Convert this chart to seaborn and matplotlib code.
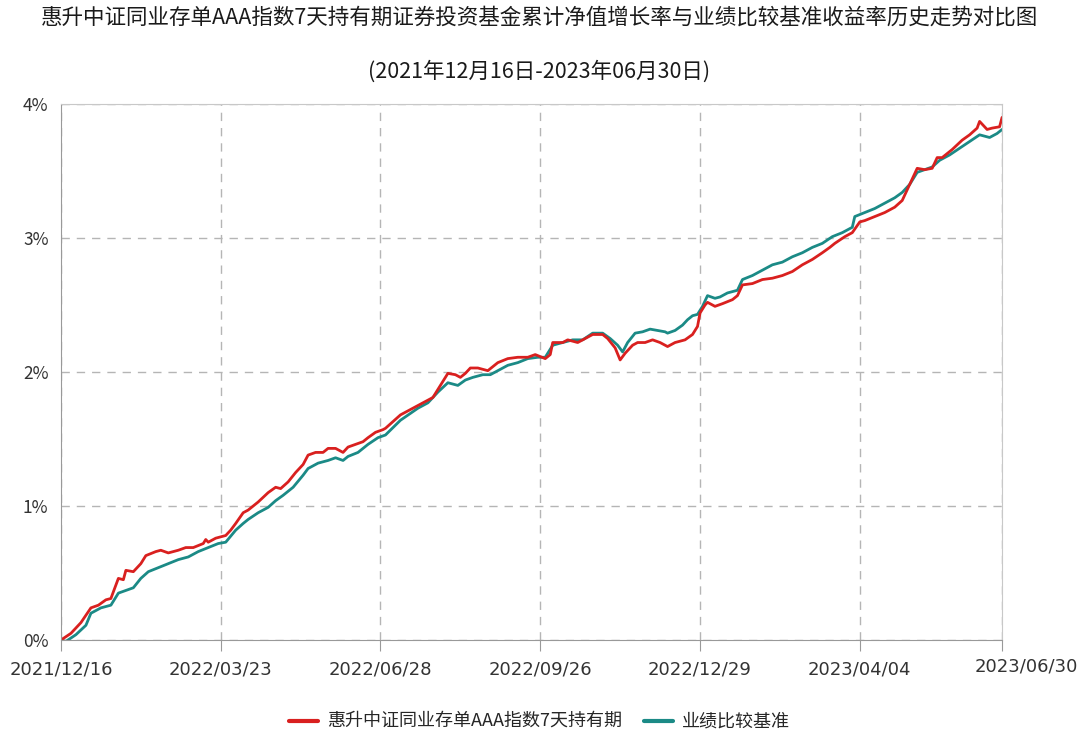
import numpy as np
import pandas as pd
import matplotlib
matplotlib.use("Agg")
import matplotlib.pyplot as plt
import matplotlib.transforms as mtransforms
import seaborn as sns

# trading-day index from 2021/12/16, cumulative return in %
fund_idx = [0, 4, 8, 12, 15, 18, 20, 23, 25, 26, 29, 32, 34, 38, 40, 43, 47, 50, 53, 57,
            58, 59, 62, 66, 68, 70, 73, 75, 79, 83, 86, 88, 91, 94, 97, 99, 102, 105, 107, 110,
            113, 115, 118, 121, 123, 126, 129, 130, 136, 141, 145, 149, 153, 155, 158, 160, 162, 164, 167, 171,
            175, 179, 183, 187, 190, 194, 196, 197, 201, 203, 207, 210, 213, 217, 219, 222, 224, 226, 229, 231,
            234, 237, 240, 243, 246, 250, 253, 255, 256, 258, 259, 262, 265, 269, 271, 273, 277, 281, 285, 289,
            293, 297, 301, 305, 308, 310, 314, 317, 320, 322, 326, 330, 334, 337, 340, 343, 346, 349, 351, 353,
            357, 361, 364, 367, 368, 371, 373, 376, 377]
fund_val = [0.00, 0.05, 0.13, 0.24, 0.26, 0.30, 0.31, 0.46, 0.45, 0.52, 0.51, 0.57, 0.63, 0.66, 0.67, 0.65, 0.67, 0.69, 0.69, 0.72,
            0.75, 0.73, 0.76, 0.78, 0.82, 0.87, 0.95, 0.97, 1.03, 1.10, 1.14, 1.13, 1.18, 1.25, 1.31, 1.38, 1.40, 1.40, 1.43, 1.43,
            1.40, 1.44, 1.46, 1.48, 1.51, 1.55, 1.57, 1.58, 1.68, 1.73, 1.77, 1.81, 1.93, 1.99, 1.98, 1.96, 1.99, 2.03, 2.03, 2.01,
            2.07, 2.10, 2.11, 2.11, 2.13, 2.10, 2.13, 2.22, 2.22, 2.24, 2.22, 2.25, 2.28, 2.28, 2.25, 2.18, 2.09, 2.14, 2.20, 2.22,
            2.22, 2.24, 2.22, 2.19, 2.22, 2.24, 2.28, 2.34, 2.44, 2.50, 2.52, 2.49, 2.51, 2.54, 2.57, 2.65, 2.66, 2.69, 2.70, 2.72,
            2.75, 2.80, 2.84, 2.89, 2.93, 2.96, 3.01, 3.04, 3.12, 3.13, 3.16, 3.19, 3.23, 3.28, 3.40, 3.52, 3.51, 3.52, 3.60, 3.60,
            3.66, 3.73, 3.77, 3.82, 3.87, 3.81, 3.82, 3.83, 3.90]

bench_idx = [0, 2, 6, 10, 12, 16, 20, 23, 26, 29, 32, 35, 39, 43, 47, 51, 55, 59, 63, 66,
             70, 73, 75, 79, 83, 86, 89, 93, 97, 99, 103, 107, 110, 113, 115, 119, 123, 127, 130, 136,
             143, 147, 151, 155, 159, 162, 165, 169, 172, 175, 179, 183, 187, 191, 194, 197, 201, 205, 209, 213,
             217, 220, 223, 225, 227, 230, 233, 236, 239, 242, 243, 246, 249, 251, 253, 255, 257, 259, 262, 264,
             267, 271, 273, 277, 281, 285, 289, 293, 297, 301, 305, 309, 313, 317, 318, 322, 326, 330, 334, 337,
             340, 343, 346, 349, 352, 356, 360, 364, 368, 372, 375, 377]
bench_val = [0.00, -0.01, 0.04, 0.11, 0.20, 0.24, 0.26, 0.35, 0.37, 0.39, 0.46, 0.51, 0.54, 0.57, 0.60, 0.62, 0.66, 0.69, 0.72, 0.73,
             0.82, 0.87, 0.90, 0.95, 0.99, 1.04, 1.08, 1.14, 1.23, 1.28, 1.32, 1.34, 1.36, 1.34, 1.37, 1.40, 1.46, 1.51, 1.53, 1.64,
             1.73, 1.77, 1.85, 1.92, 1.90, 1.94, 1.96, 1.98, 1.98, 2.01, 2.05, 2.07, 2.10, 2.11, 2.11, 2.20, 2.22, 2.24, 2.24, 2.29,
             2.29, 2.25, 2.20, 2.15, 2.22, 2.29, 2.30, 2.32, 2.31, 2.30, 2.29, 2.31, 2.35, 2.39, 2.42, 2.43, 2.49, 2.57, 2.55, 2.56,
             2.59, 2.61, 2.69, 2.72, 2.76, 2.80, 2.82, 2.86, 2.89, 2.93, 2.96, 3.01, 3.04, 3.08, 3.16, 3.19, 3.22, 3.26, 3.30, 3.34,
             3.40, 3.49, 3.51, 3.53, 3.58, 3.62, 3.67, 3.72, 3.77, 3.75, 3.78, 3.81]

tick_pos = [0, 64, 128, 192, 256, 320, 377]
tick_labels = ["2021/12/16", "2022/03/23", "2022/06/28", "2022/09/26",
               "2022/12/29", "2023/04/04", "2023/06/30"]

fund_name = "惠升中证同业存单AAA指数7天持有期"
bench_name = "业绩比较基准"

df = pd.concat([
    pd.DataFrame({"idx": fund_idx, "val": fund_val, "series": fund_name}),
    pd.DataFrame({"idx": bench_idx, "val": bench_val, "series": bench_name}),
])

sns.set_style("white")
plt.rcParams["font.family"] = ["Noto Sans CJK SC", "DejaVu Sans"]

fig = plt.figure(figsize=(10.79, 7.36), dpi=100)
ax = fig.add_axes([0.0565, 0.1304, 0.8722, 0.7283])

palette = {fund_name: "#d9201f", bench_name: "#1b8a86"}
sns.lineplot(data=df, x="idx", y="val", hue="series", palette=palette,
             linewidth=2.0, ax=ax, legend=False, hue_order=[bench_name, fund_name])

ax.set_xlim(0, 377)
ax.set_ylim(0, 4)
ax.set_yticks([0, 1, 2, 3, 4])
ax.set_yticklabels(["0%", "1%", "2%", "3%", "4%"], color="#333333", fontsize=12.5)
ax.set_xticks(tick_pos)
ax.set_xticklabels(tick_labels, color="#333333", fontsize=13, family="DejaVu Sans")
ax.set_xlabel("")
ax.set_ylabel("")

ax.grid(True, linestyle=(0, (6, 5)), color="#b5b5b5", linewidth=1.0)
for s in ax.spines.values():
    s.set_color("#c8c8c8")
ax.spines["left"].set_color("#999999")
ax.spines["bottom"].set_color("#999999")
ax.tick_params(axis="x", length=8, color="#999999", pad=7, bottom=True)
ax.tick_params(axis="y", length=0, pad=9)

# last date label shifted right as in the original
last = ax.get_xticklabels()[-1]
last.set_transform(last.get_transform() + mtransforms.ScaledTranslation(0.24, 0.03, fig.dpi_scale_trans))

fig.text(0.5, 1 - 18 / 736, "惠升中证同业存单AAA指数7天持有期证券投资基金累计净值增长率与业绩比较基准收益率历史走势对比图",
         ha="center", va="center", fontsize=15.5, color="#1a1a1a", fontweight="medium")
fig.text(0.5, 1 - 72 / 736, "(2021年12月16日-2023年06月30日)",
         ha="center", va="center", fontsize=15.5, color="#1a1a1a", fontweight="medium")

handles = [plt.Line2D([], [], color=palette[fund_name], linewidth=3),
           plt.Line2D([], [], color=palette[bench_name], linewidth=3)]
fig.legend(handles, [fund_name, bench_name], loc="center", bbox_to_anchor=(0.5, 14 / 736),
           ncol=2, frameon=False, fontsize=13, handlelength=1.6, columnspacing=1.2, handletextpad=0.5)

fig.savefig("out.png", dpi=100)
